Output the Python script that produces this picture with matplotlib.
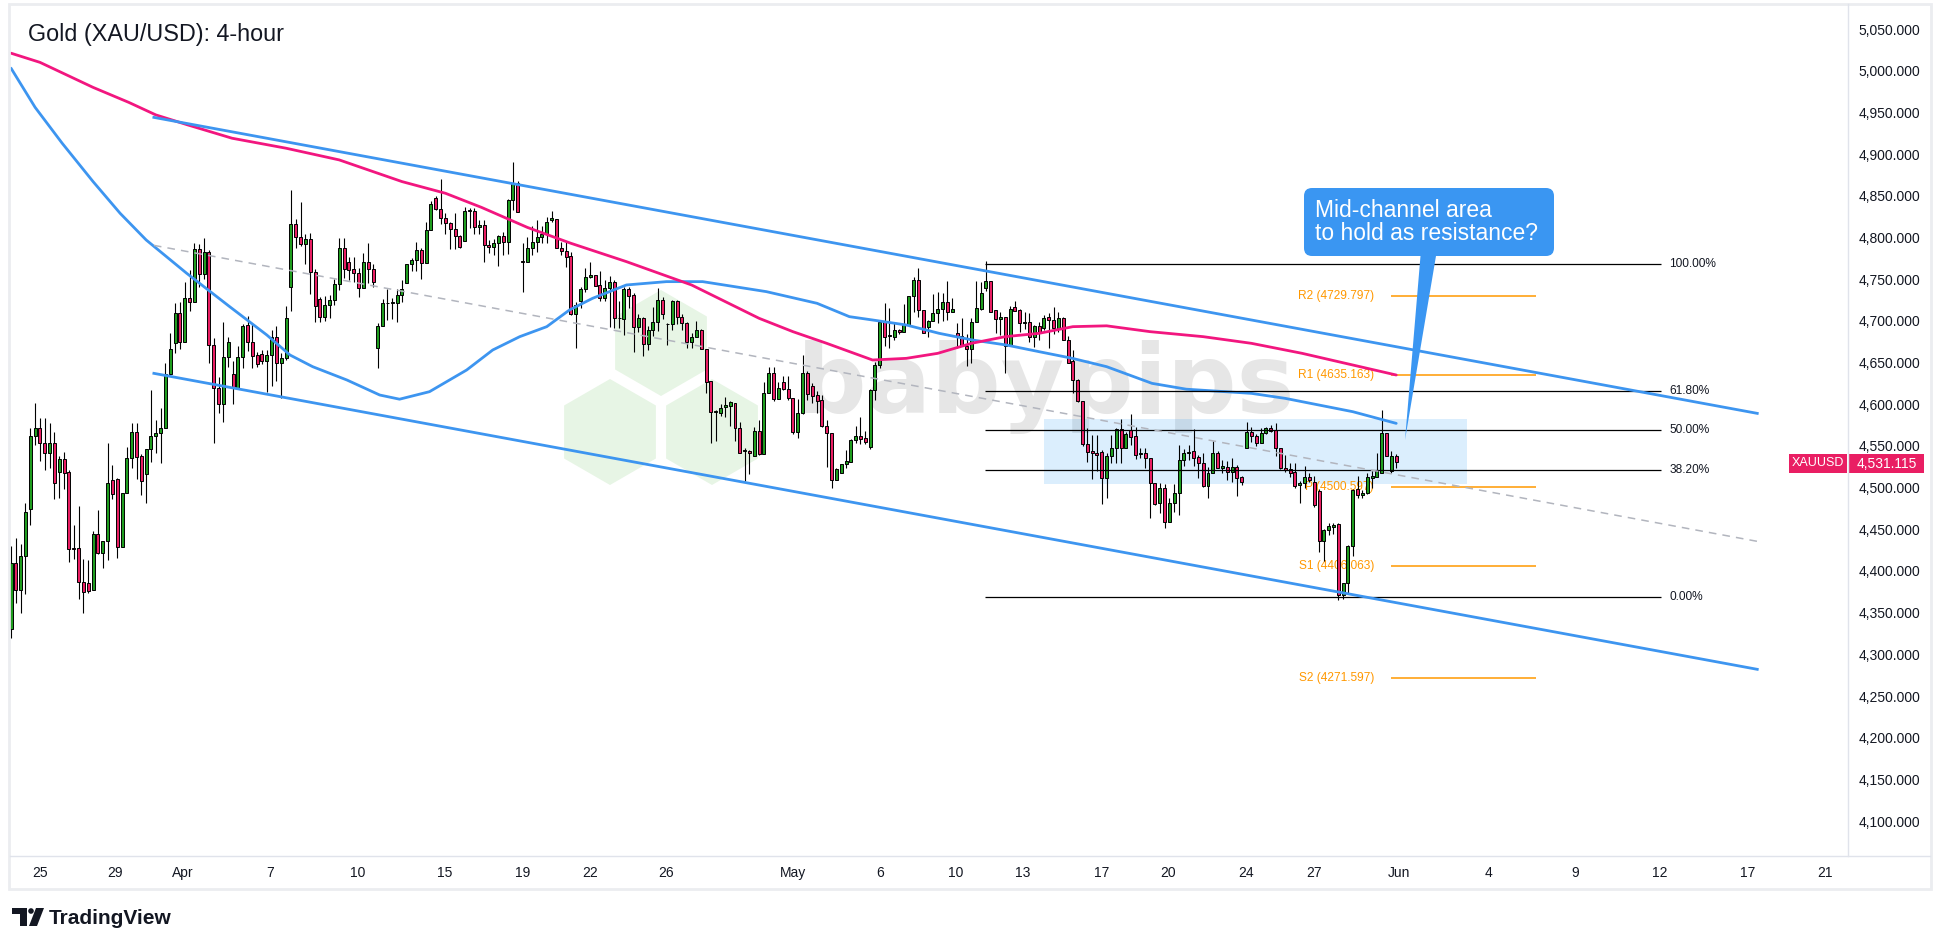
import matplotlib
matplotlib.use('Agg')
import matplotlib.pyplot as plt
from matplotlib.patches import Rectangle, FancyBboxPatch, Polygon, RegularPolygon, Circle
from matplotlib.transforms import IdentityTransform
from matplotlib.lines import Line2D
import numpy as np

W, H = 1940, 948
plt.rcParams['font.family'] = ['Liberation Sans', 'DejaVu Sans']

# ---------------- data (4-hour candles) ----------------
opens = [4330,4409,4377,4418,4474,4562,4571,4554,4542,4553,4519,4534,4519,4427,4427,4387,4386,4377,4444,4422,
         4436,4509,4510,4429,4494,4536,4567,4538,4516,4546,4562,4566,4572,4636,4673,4709,4674,4727,4722,4786,
         4756,4782,4671,4619,4600,4657,4636,4620,4657,4695,4674,4659,4660,4652,4659,4681,4649,4655,4740,4816,
         4801,4792,4798,4758,4726,4705,4719,4725,4744,4787,4770,4762,4757,4739,4770,4762,4668,4694,4721,4721,
         4721,4731,4745,4768,4773,4785,4769,4809,4847,4834,4823,4817,4810,4802,4796,4832,4832,4812,4815,4791,
         4789,4793,4802,4794,4845,4865,4772,4770,4787,4794,4801,4804,4821,4822,4787,4784,4778,4708,4724,4738,
         4752,4755,4743,4727,4739,4746,4703,4702,4738,4731,4693,4703,4672,4689,4698,4725,4696,4696,4724,4704,
         4697,4675,4680,4689,4666,4628,4591,4590,4597,4598,4602,4571,4544,4544,4538,4568,4540,4614,4637,4606,
         4627,4618,4607,4567,4589,4637,4622,4611,4605,4574,4566,4509,4518,4528,4531,4557,4562,4559,4549,4617,
         4647,4698,4682,4681,4689,4686,4695,4730,4749,4713,4692,4700,4709,4714,4722,4710,4685,4682,4670,4666,
         4699,4714,4739,4748,4713,4702,4704,4670,4717,4713,4697,4698,4681,4694,4691,4704,4701,4690,4703,4677,
         4652,4629,4604,4552,4544,4542,4543,4512,4538,4548,4570,4548,4569,4562,4540,4541,4535,4506,4482,4499,
         4459,4482,4494,4533,4542,4544,4537,4530,4502,4517,4542,4524,4525,4519,4525,4513,4548,4567,4562,4554,
         4565,4571,4569,4548,4524,4522,4519,4503,4506,4513,4507,4496,4436,4449,4453,4456,4371,4385,4430,4498,
         4491,4494,4512,4513,4517,4565,4520,4538]
highs = [4430,4440,4432,4482,4572,4601,4583,4583,4577,4567,4538,4543,4521,4455,4478,4414,4413,4448,4473,4436,
         4553,4527,4511,4494,4549,4578,4577,4540,4546,4617,4581,4595,4649,4685,4721,4722,4746,4761,4793,4792,
         4799,4785,4679,4633,4698,4680,4652,4670,4696,4706,4696,4663,4665,4665,4689,4694,4661,4718,4857,4822,
         4843,4804,4805,4762,4729,4730,4731,4750,4799,4799,4776,4777,4763,4781,4793,4768,4697,4726,4738,4727,
         4738,4749,4768,4775,4795,4787,4819,4844,4850,4870,4829,4819,4829,4803,4836,4835,4835,4821,4821,4797,
         4798,4803,4807,4846,4891,4868,4793,4801,4814,4821,4814,4825,4832,4822,4795,4795,4783,4723,4741,4763,
         4770,4755,4760,4749,4754,4749,4724,4741,4741,4733,4708,4705,4694,4716,4739,4728,4697,4725,4725,4708,
         4699,4685,4700,4690,4666,4628,4593,4600,4609,4604,4602,4579,4547,4545,4573,4581,4627,4645,4645,4627,
         4634,4634,4607,4606,4659,4640,4626,4616,4611,4581,4566,4523,4528,4545,4558,4574,4585,4568,4618,4651,
         4701,4721,4715,4699,4690,4720,4730,4752,4763,4713,4701,4732,4734,4733,4748,4727,4697,4703,4684,4703,
         4748,4747,4772,4748,4713,4711,4704,4718,4724,4714,4710,4709,4695,4699,4707,4709,4717,4710,4705,4682,
         4665,4630,4604,4571,4563,4563,4545,4541,4563,4571,4582,4567,4588,4573,4547,4547,4535,4506,4505,4504,
         4488,4504,4551,4546,4551,4570,4539,4542,4525,4556,4544,4533,4532,4535,4527,4514,4579,4573,4564,4571,
         4573,4575,4578,4548,4539,4529,4529,4508,4526,4518,4514,4498,4450,4458,4458,4458,4385,4431,4498,4514,
         4497,4518,4520,4542,4593,4565,4544,4540]
lows = [4320,4361,4350,4372,4455,4551,4532,4521,4523,4486,4488,4498,4411,4414,4366,4350,4373,4377,4420,4403,
        4413,4486,4416,4429,4494,4523,4510,4491,4481,4531,4542,4529,4572,4636,4661,4666,4674,4712,4722,4741,
        4750,4649,4553,4590,4579,4645,4600,4620,4643,4664,4644,4645,4648,4615,4622,4628,4607,4653,4712,4787,
        4790,4768,4732,4698,4698,4700,4703,4719,4737,4751,4749,4747,4729,4739,4745,4741,4643,4694,4701,4702,
        4699,4722,4745,4760,4760,4750,4769,4809,4833,4816,4804,4786,4786,4787,4796,4811,4804,4804,4771,4781,
        4779,4766,4779,4780,4833,4830,4735,4770,4779,4783,4793,4793,4819,4787,4779,4765,4707,4668,4715,4735,
        4751,4742,4724,4724,4693,4691,4691,4683,4715,4663,4686,4658,4665,4682,4688,4702,4671,4689,4696,4689,
        4667,4667,4680,4666,4614,4554,4556,4586,4585,4574,4556,4541,4508,4516,4538,4539,4540,4613,4604,4606,
        4617,4605,4564,4559,4588,4605,4602,4590,4573,4525,4500,4509,4518,4523,4531,4553,4552,4552,4546,4605,
        4644,4670,4668,4677,4684,4686,4695,4711,4704,4685,4681,4700,4697,4700,4701,4710,4667,4670,4646,4650,
        4699,4713,4736,4710,4685,4683,4637,4670,4712,4687,4690,4675,4669,4677,4689,4668,4684,4687,4677,4650,
        4613,4603,4550,4531,4510,4520,4480,4488,4529,4529,4530,4547,4551,4534,4535,4524,4464,4479,4470,4452,
        4459,4471,4467,4526,4533,4526,4511,4501,4487,4517,4523,4517,4509,4507,4490,4503,4548,4555,4550,4553,
        4564,4567,4538,4522,4519,4513,4499,4481,4499,4507,4477,4423,4412,4443,4444,4365,4366,4373,4418,4488,
        4488,4492,4499,4513,4517,4538,4518,4523]
closes = [4410,4377,4418,4471,4562,4571,4554,4542,4553,4505,4534,4518,4426,4426,4387,4375,4376,4444,4422,4436,
          4505,4492,4429,4494,4536,4567,4537,4508,4546,4562,4566,4572,4636,4666,4709,4674,4727,4722,4786,4756,
          4782,4671,4619,4600,4657,4674,4620,4657,4694,4674,4658,4648,4652,4659,4681,4649,4655,4703,4816,4801,
          4792,4798,4758,4718,4705,4719,4725,4744,4787,4762,4761,4757,4739,4770,4762,4747,4694,4721,4721,4722,
          4731,4738,4768,4773,4785,4769,4809,4840,4834,4823,4817,4810,4802,4789,4832,4832,4812,4815,4791,4788,
          4793,4802,4794,4845,4865,4830,4771,4787,4794,4801,4804,4818,4823,4787,4784,4777,4708,4719,4738,4752,
          4755,4742,4727,4739,4746,4703,4703,4738,4730,4692,4703,4672,4689,4698,4725,4708,4696,4724,4704,4697,
          4674,4680,4689,4666,4627,4591,4591,4595,4599,4603,4571,4542,4544,4541,4568,4540,4614,4637,4606,4620,
          4618,4607,4567,4589,4637,4612,4610,4604,4574,4566,4509,4522,4528,4532,4557,4562,4558,4555,4617,4647,
          4699,4681,4682,4689,4686,4695,4730,4749,4713,4685,4700,4709,4714,4722,4710,4714,4682,4670,4666,4699,
          4715,4733,4748,4711,4702,4704,4670,4714,4712,4697,4699,4681,4694,4687,4703,4701,4691,4703,4677,4650,
          4629,4604,4552,4543,4542,4539,4512,4538,4548,4570,4548,4564,4561,4539,4541,4535,4506,4480,4499,4459,
          4482,4494,4533,4541,4542,4536,4530,4502,4517,4541,4524,4526,4519,4525,4512,4507,4567,4562,4554,4565,
          4571,4568,4548,4523,4521,4518,4502,4506,4513,4509,4479,4436,4449,4454,4455,4371,4385,4430,4497,4491,
          4494,4513,4514,4520,4565,4538,4538,4531]

# moving averages (values read at bar positions)
ma_pink_idx = [0, 6, 17, 24.4, 30, 36.6, 45.8, 57, 68, 81, 90, 97.5, 107, 116, 127.5, 141, 148, 155, 162, 169,
               178.5, 185.5, 192, 199, 206, 213, 220, 227, 236, 247, 257, 267.5, 278, 287]
ma_pink_val = [5021, 5010, 4980, 4962, 4947, 4935, 4919, 4907, 4893, 4867, 4853, 4836, 4812, 4793, 4771, 4743, 4723,
               4703, 4687, 4673, 4653, 4655, 4661, 4673, 4681, 4685, 4693, 4694, 4687, 4681, 4673, 4661, 4647, 4635]
ma_blue_idx = [0, 5, 10.6, 17, 22.6, 28, 36.4, 45.3, 53, 57.8, 62.5, 69.6, 76.4, 80.5, 86.7, 94.4, 99.8, 105.4, 111,
               115.7, 120.5, 127.5, 135.8, 143.3, 156.5, 167, 173.7, 178.5, 185.5, 192.3, 199.2, 206.2, 213, 219.9,
               227, 236.4, 243.5, 257, 264, 271, 278, 287]
ma_blue_val = [5003, 4956, 4913, 4867, 4829, 4797, 4757, 4717, 4683, 4659, 4645, 4629, 4611, 4606, 4615, 4641, 4665,
               4681, 4693, 4713, 4727, 4743, 4747, 4747, 4735, 4721, 4705, 4701, 4695, 4685, 4677, 4671, 4663, 4655,
               4645, 4625, 4618, 4613, 4607, 4599, 4591, 4577]

# descending channel
channel_idx = [29.6, 361.8]
channel_upper = [4944, 4589]
channel_lower = [4637, 4282]

# Fibonacci retracement
fib_high, fib_low = 4768, 4369
fib_ratios = [1.0, 0.618, 0.5, 0.382, 0.0]
fib_labels = ['100.00%', '61.80%', '50.00%', '38.20%', '0.00%']
fib_span = [201.8, 341.9]

# pivot points
pivot_names = ['R2', 'R1', 'P', 'S1', 'S2']
pivot_vals = [4729.797, 4635.163, 4500.597, 4406.063, 4271.597]
pivot_span = [286.0, 316.0]

# resistance zone
zone_span = [214.0, 301.7]
zone_prices = [4504, 4582]

last_price = 4531.115

ytick_vals = list(range(4100, 5051, 50))
xtick_pos = [6.0, 21.6, 35.6, 53.7, 71.9, 89.9, 106.1, 120.0, 135.7, 162.0, 180.1, 195.8, 209.7, 225.9, 239.7,
             255.9, 270.0, 287.6, 306.1, 324.1, 341.7, 359.9, 375.9]
xtick_labels = ['25', '29', 'Apr', '7', '10', '15', '19', '22', '26', 'May', '6', '10', '13', '17', '20', '24',
                '27', 'Jun', '4', '9', '12', '17', '21']

# ---------------- styling ----------------
GREEN = '#1f9d1f'
PINK = '#e91e63'
MA_PINK = '#f2167f'
BLUE = '#3d95f0'
ORANGE = '#ff9800'
TXT = '#131722'
GRID = '#e0e3eb'

fig = plt.figure(figsize=(W / 100, H / 100), dpi=100)
fig.patch.set_facecolor('white')
ax = fig.add_axes([10 / W, (H - 856) / H, (1848 - 10) / W, (856 - 4) / H])
ax.set_facecolor('white')
ax.set_xlim(-0.21, 380.6)
ax.set_ylim(4058.1, 5080.0)

# watermark (behind everything)
for cx, cy in [(661, 343), (610, 432), (712, 432)]:
    ax.add_patch(RegularPolygon((cx, H - cy), numVertices=6, radius=53, orientation=0,
                                facecolor='#e7f5e5', edgecolor='none', transform=IdentityTransform(), zorder=0.3))
ax.text(1046, H - 413, 'babypips', transform=IdentityTransform(), fontsize=70, fontweight='bold',
        family='DejaVu Sans', color='#e6e6e6', ha='center', va='baseline', zorder=0.4)

# zone
ax.add_patch(Rectangle((zone_span[0], zone_prices[0]), zone_span[1] - zone_span[0],
                       zone_prices[1] - zone_prices[0], facecolor='#2196f3', alpha=0.16,
                       edgecolor='none', zorder=1))

# pivot lines + labels
ax.hlines(pivot_vals, pivot_span[0], pivot_span[1], color=ORANGE, lw=1.1, zorder=1.5)
for name, v in zip(pivot_names, pivot_vals):
    ax.text(282.4, v, f'{name} ({v:.3f})', color=ORANGE, fontsize=8.6, ha='right', va='center', zorder=1.6)

# candles
O = np.array(opens, float); Hh = np.array(highs, float); L = np.array(lows, float); C = np.array(closes, float)
x = np.arange(len(O))
cols = np.where(C >= O, GREEN, PINK)
ax.vlines(x, L, Hh, color='black', lw=0.8, zorder=2)
ax.bar(x, np.maximum(np.abs(C - O), 0.6), bottom=np.minimum(O, C), width=0.62, color=cols,
       edgecolor='black', linewidth=0.7, zorder=2.5)

# moving averages
ax.plot(ma_blue_idx, ma_blue_val, color=BLUE, lw=2.0, zorder=3, solid_capstyle='round')
ax.plot(ma_pink_idx, ma_pink_val, color=MA_PINK, lw=2.0, zorder=3, solid_capstyle='round')

# fib
for r, lab in zip(fib_ratios, fib_labels):
    lv = fib_low + r * (fib_high - fib_low)
    ax.hlines(lv, fib_span[0], fib_span[1], color='black', lw=0.9, zorder=3.2)
    ax.text(343.6, lv, lab, fontsize=8.6, color=TXT, ha='left', va='center', zorder=3.2)

# channel
ax.plot(channel_idx, channel_upper, color=BLUE, lw=2.0, zorder=4)
ax.plot(channel_idx, channel_lower, color=BLUE, lw=2.0, zorder=4)
mid = [(u + l) / 2 for u, l in zip(channel_upper, channel_lower)]
ax.plot(channel_idx, mid, color='#b2b5be', lw=1.1, dashes=(5, 4), zorder=4)

# axes styling
for s in ['top', 'left', 'bottom', 'right']:
    ax.spines[s].set_visible(False)
ax.yaxis.tick_right()
ax.set_yticks(ytick_vals)
ax.set_yticklabels([f'{v:,.3f}' for v in ytick_vals], fontsize=10, color=TXT)
ax.tick_params(axis='y', length=0, pad=7.5)
ax.set_xticks(xtick_pos)
ax.set_xticklabels(xtick_labels, fontsize=10, color=TXT)
ax.tick_params(axis='x', length=0, pad=7)

# separators and frame
fig.add_artist(Line2D([10, 1930], [H - 856, H - 856], color=GRID, lw=1, transform=IdentityTransform()))
fig.add_artist(Line2D([1848, 1848], [H - 4, H - 856], color=GRID, lw=1, transform=IdentityTransform()))
fig.add_artist(Rectangle((9, H - 889), 1922, 885, facecolor='none', edgecolor='#ebedf0', lw=2,
                         transform=IdentityTransform()))

# title
fig.text(28, H - 34, 'Gold (XAU/USD): 4-hour', fontsize=16.8, color=TXT, ha='left', va='center',
         transform=IdentityTransform())

# price tags
fig.add_artist(Rectangle((1789, H - 473), 58, 19, facecolor=PINK, edgecolor='none', transform=IdentityTransform()))
fig.add_artist(Rectangle((1849, H - 473), 75, 19, facecolor=PINK, edgecolor='none', transform=IdentityTransform()))
fig.text(1818, H - 463.5, 'XAUUSD', fontsize=9, color='white', ha='center', va='center', transform=IdentityTransform())
fig.text(1886.5, H - 463.5, f'{last_price:,.3f}', fontsize=10, color='white', ha='center', va='center',
         transform=IdentityTransform())

# callout
fig.add_artist(Polygon([(1421, H - 250), (1437, H - 250), (1405, H - 440)], closed=True,
                       facecolor='#3a96f2', edgecolor='none', transform=IdentityTransform(), zorder=5))
fig.add_artist(FancyBboxPatch((1304, H - 256), 250, 68, boxstyle='round,pad=0,rounding_size=8',
                              facecolor='#3a96f2', edgecolor='none', transform=IdentityTransform(), zorder=5))
fig.text(1315, H - 222, 'Mid-channel area\nto hold as resistance?', fontsize=16.5, color='white',
         ha='left', va='center', linespacing=1.05, transform=IdentityTransform(), zorder=6)

# TradingView logo
fig.add_artist(Polygon([(12, H - 908), (27, H - 908), (27, H - 926), (20, H - 926), (20, H - 914), (12, H - 914)],
                       closed=True, facecolor=TXT, edgecolor='none', transform=IdentityTransform()))
fig.add_artist(Circle((31, H - 911), 2.8, facecolor=TXT, edgecolor='none', transform=IdentityTransform()))
fig.add_artist(Polygon([(36, H - 908), (44, H - 908), (37, H - 926), (29, H - 926)], closed=True,
                       facecolor=TXT, edgecolor='none', transform=IdentityTransform()))
fig.text(49, H - 918, 'TradingView', fontsize=15, fontweight='bold', color=TXT, ha='left', va='center',
         transform=IdentityTransform())

fig.savefig('out.png', dpi=100, facecolor='white')
